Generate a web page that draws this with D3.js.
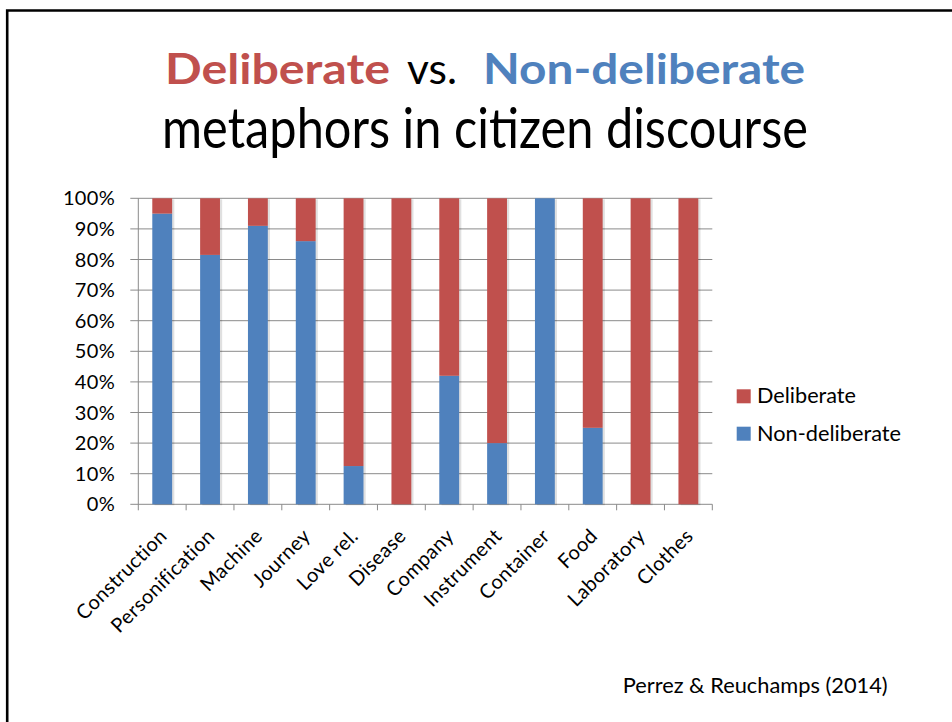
<!DOCTYPE html>
<html>
<head>
<meta charset="utf-8">
<script src="https://cdn.jsdelivr.net/npm/d3@7"></script>
<style>
  html, body { margin: 0; padding: 0; background: #fff; }
  svg { display: block; font-family: Lato, "Open Sans", sans-serif; }
</style>
</head>
<body>
<svg id="chart" width="952" height="722"></svg>
<script>
// ---- data ----
const categories = ["Construction", "Personification", "Machine", "Journey", "Love rel.", "Disease",
                    "Company", "Instrument", "Container", "Food", "Laboratory", "Clothes"];
const nonDeliberate = [95, 81.5, 91, 86, 12.5, 0, 42, 20, 100, 25, 0, 0];
const deliberate    = [5, 18.5, 9, 14, 87.5, 100, 58, 80, 0, 75, 100, 100];
const seriesNames = ["Deliberate", "Non-deliberate"];
const yTickValues = [0, 10, 20, 30, 40, 50, 60, 70, 80, 90, 100];
const footnote = "Perrez & Reuchamps (2014)";

(function () {
// ---- styles ----
const RED = "#C0504D", BLUE = "#4F81BD", GRID = "#8a8a8a";

const svg = d3.select("#chart");

// slide border
svg.append("path")
  .attr("d", "M7.2,722 L7.2,10.5 L952,10.5")
  .attr("fill", "none").attr("stroke", "#000").attr("stroke-width", 2.6);

// title
const t1 = svg.append("text").attr("y", 84).attr("font-size", 42).attr("font-weight", 700);
t1.append("tspan").attr("x", 165).attr("fill", RED).attr("textLength", 225)
  .attr("lengthAdjust", "spacingAndGlyphs").text("Deliberate");
t1.append("tspan").attr("x", 407).attr("fill", "#000").attr("font-weight", 400).attr("textLength", 50)
  .attr("lengthAdjust", "spacingAndGlyphs").text("vs.");
t1.append("tspan").attr("x", 483).attr("fill", BLUE).attr("textLength", 322)
  .attr("lengthAdjust", "spacingAndGlyphs").text("Non-deliberate");

svg.append("text").attr("x", 162).attr("y", 148).attr("font-size", 57)
  .attr("textLength", 646).attr("lengthAdjust", "spacingAndGlyphs")
  .attr("fill", "#000").text("metaphors in citizen discourse");

// ---- chart ----
const pLeft = 138.3, pRight = 712.3, pTop = 198.3, pBottom = 504.3;

const x = d3.scaleBand().domain(categories).range([pLeft, pRight]).padding(0);
const y = d3.scaleLinear().domain([0, 100]).range([pBottom, pTop]);

const data = categories.map((c, i) => ({
  cat: c, "Non-deliberate": nonDeliberate[i], "Deliberate": deliberate[i]
}));
const stacked = d3.stack().keys(["Non-deliberate", "Deliberate"])(data);
const color = d3.scaleOrdinal().domain(seriesNames).range([RED, BLUE]);

// gridlines
svg.append("g").selectAll("line").data(yTickValues).join("line")
  .attr("x1", pLeft - 8).attr("x2", pRight)
  .attr("y1", d => y(d)).attr("y2", d => y(d))
  .attr("stroke", GRID).attr("stroke-width", 1);

// y axis line
svg.append("line").attr("x1", pLeft).attr("x2", pLeft).attr("y1", pTop).attr("y2", pBottom)
  .attr("stroke", GRID).attr("stroke-width", 1);

// x axis ticks at band boundaries
const boundaries = categories.map(c => x(c)).concat([x.range()[1]]);
svg.append("g").selectAll("line").data(boundaries).join("line")
  .attr("x1", d => d).attr("x2", d => d)
  .attr("y1", pBottom).attr("y2", pBottom + 6)
  .attr("stroke", GRID).attr("stroke-width", 1);

// y tick labels
svg.append("g").selectAll("text").data(yTickValues).join("text")
  .attr("x", 115).attr("y", d => y(d)).attr("dy", "0.35em")
  .attr("text-anchor", "end").attr("font-size", 20).attr("letter-spacing", 0.3).attr("fill", "#000")
  .text(d => d + "%");

// bars
const barW = x.bandwidth() * 0.415;
const bx = c => x(c) + (x.bandwidth() - barW) / 2;

// shadows
svg.append("g").selectAll("rect").data(categories).join("rect")
  .attr("x", c => bx(c) + 2.2).attr("y", y(100) + 1)
  .attr("width", barW).attr("height", y(0) - y(100))
  .attr("fill", "#000").attr("opacity", 0.12);

svg.append("g").selectAll("g").data(stacked).join("g")
  .attr("fill", s => color(s.key))
  .selectAll("rect").data(s => s).join("rect")
  .attr("x", d => bx(d.data.cat))
  .attr("y", d => y(d[1]))
  .attr("width", barW)
  .attr("height", d => Math.max(0, y(d[0]) - y(d[1])));

// x labels
svg.append("g").selectAll("text").data(categories).join("text")
  .attr("transform", c => `translate(${x(c) + x.bandwidth() / 2 + 1},${pBottom + 28}) rotate(-45)`)
  .attr("dy", "0.35em").attr("text-anchor", "end")
  .attr("font-size", 20).attr("letter-spacing", 0.4).attr("fill", "#000")
  .text(c => c);

// legend
const lg = svg.append("g");
seriesNames.forEach((s, i) => {
  const yy = 389.3 + i * 37.4;
  lg.append("rect").attr("x", 736.7).attr("y", yy).attr("width", 14).attr("height", 14).attr("fill", color(s));
  lg.append("text").attr("x", 757).attr("y", yy + 14).attr("font-size", 21)
    .attr("textLength", i === 0 ? 99 : 144).attr("lengthAdjust", "spacingAndGlyphs")
    .attr("fill", "#000").text(s);
});

// footnote
svg.append("text").attr("x", 622.7).attr("y", 692.7).attr("font-size", 21)
  .attr("textLength", 265).attr("lengthAdjust", "spacingAndGlyphs")
  .attr("fill", "#000").text(footnote);
})();
</script>
</body>
</html>
